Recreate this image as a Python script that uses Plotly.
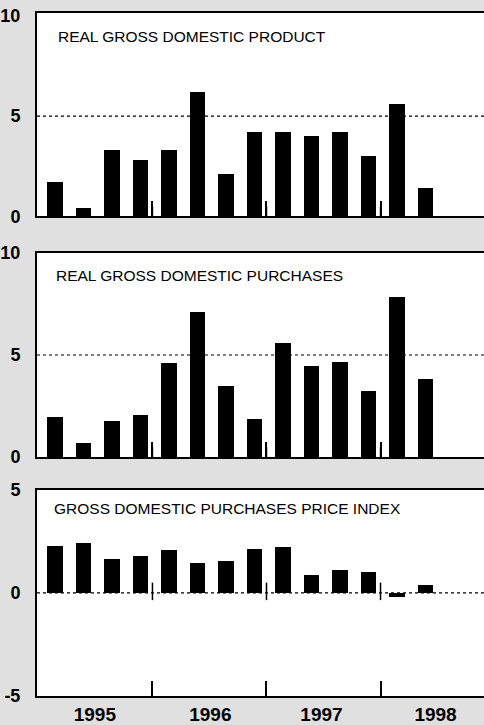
"""Three stacked quarterly bar panels: real GDP, real purchases, purchases price index."""

import plotly.graph_objects as go

# Quarters 1995Q1 .. 1998Q2 (x = quarter index)
QUARTERS = list(range(14))
GDP = [1.7, 0.4, 3.3, 2.8, 3.3, 6.2, 2.1, 4.2, 4.2, 4.0, 4.2, 3.0, 5.6, 1.4]
PURCHASES = [1.95, 0.7, 1.75, 2.05, 4.6, 7.1, 3.5, 1.85, 5.6, 4.45, 4.65, 3.25, 7.85, 3.85]
PRICE_INDEX = [2.3, 2.45, 1.65, 1.8, 2.1, 1.45, 1.55, 2.15, 2.25, 0.9, 1.1, 1.0, -0.2, 0.4]

YEAR_LABELS = ["1995", "1996", "1997", "1998"]
YEAR_CENTERS = [1.4, 5.45, 9.35, 13.35]
YEAR_BOUNDS = [3.42, 7.42, 11.42]

TITLE_FONT = dict(family="Liberation Sans, Arial, sans-serif", size=15.5, color="black")
NUM_FONT = dict(family="Liberation Sans, Arial, sans-serif", size=18, color="black", weight="bold")

PANELS = [
    dict(title="REAL GROSS DOMESTIC PRODUCT", values=GDP, yrange=[0, 10.15],
         ticks=[0, 5, 10], ref=5, domain=[0.7025, 1.0], tx=0.043, ty=0.883),
    dict(title="REAL GROSS DOMESTIC PURCHASES", values=PURCHASES, yrange=[0, 10],
         ticks=[0, 5, 10], ref=5, domain=[0.3498, 0.6488], tx=0.037, ty=0.888),
    dict(title="GROSS DOMESTIC PURCHASES PRICE INDEX", values=PRICE_INDEX, yrange=[-5, 5],
         ticks=[-5, 0, 5], ref=0, domain=[0.0, 0.3019], tx=0.033, ty=0.909),
]

X_RANGE = [-0.63, 15.05]

fig = go.Figure()
layout = {}

for i, p in enumerate(PANELS, start=1):
    xa = "x" if i == 1 else f"x{i}"
    ya = "y" if i == 1 else f"y{i}"
    fig.add_trace(
        go.Bar(x=QUARTERS, y=p["values"], width=0.54, marker_color="black",
               marker_line_width=0, xaxis=xa, yaxis=ya, showlegend=False)
    )
    last = i == len(PANELS)
    layout[f"xaxis{'' if i == 1 else i}"] = dict(
        domain=[0, 1], anchor=ya, range=X_RANGE, showgrid=False, zeroline=False,
        showline=True, linecolor="black", linewidth=2, mirror=True,
        tickmode="array", tickvals=YEAR_CENTERS if last else [],
        ticktext=YEAR_LABELS if last else [], ticks="", showticklabels=last,
        tickfont=dict(NUM_FONT, size=19),
        minor=dict(tickmode="array", tickvals=YEAR_BOUNDS, ticks="inside",
                   ticklen=15, tickwidth=1.5, tickcolor="black", showgrid=False),
        fixedrange=True,
    )
    layout[f"yaxis{'' if i == 1 else i}"] = dict(
        domain=p["domain"], anchor=xa, range=p["yrange"], showgrid=False, zeroline=False,
        showline=True, linecolor="black", linewidth=2, mirror=False,
        tickmode="array", tickvals=p["ticks"], ticktext=[str(t) for t in p["ticks"]],
        ticks="", ticklabelstandoff=11, tickfont=NUM_FONT, fixedrange=True,
    )
    # dotted reference line
    fig.add_shape(type="line", xref=f"{xa} domain", yref=ya, x0=0, x1=1,
                  y0=p["ref"], y1=p["ref"], line=dict(color="black", width=1.2, dash="dot"))
    fig.add_annotation(text=p["title"], xref=f"{xa} domain", yref=f"{ya} domain",
                       x=p["tx"], y=p["ty"], xanchor="left", yanchor="middle",
                       showarrow=False, font=TITLE_FONT)
    if p["ref"] != p["yrange"][0]:
        # year-boundary marks crossing the zero line
        for b in YEAR_BOUNDS:
            fig.add_shape(type="line", xref=xa, yref=ya, x0=b, x1=b, y0=-0.35, y1=0.5,
                          line=dict(color="black", width=1.5))

fig.update_layout(
    **layout,
    width=484, height=725,
    margin=dict(l=37, r=0, t=13, b=23),
    paper_bgcolor="#e0e0e0",
    plot_bgcolor="white",
    bargap=0,
)

fig.write_html("out.html", config={"displayModeBar": False},
               post_script="document.body.style.margin = '0';")
